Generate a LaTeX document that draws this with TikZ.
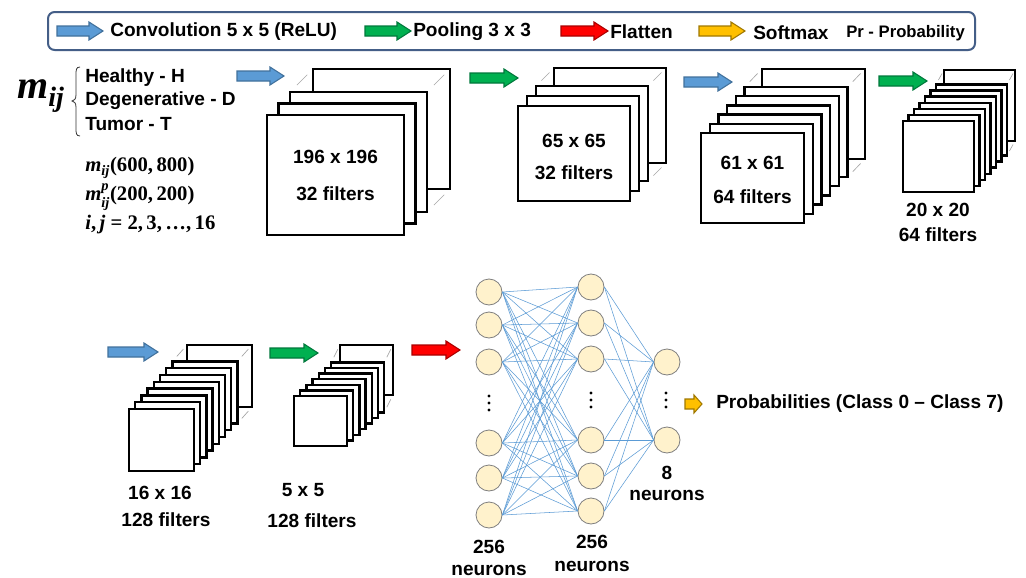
\documentclass[tikz,border=0pt]{standalone}
\usepackage[no-math]{fontspec}
\setmainfont{Liberation Sans}
\newfontfamily\serifbf{Liberation Serif}
\usepackage{amsmath,amssymb}
\usetikzlibrary{calc}
\definecolor{convblue}{RGB}{91,155,213}
\definecolor{convbluedark}{RGB}{65,113,156}
\definecolor{poolgreen}{RGB}{0,176,80}
\definecolor{poolgreendark}{RGB}{0,120,60}
\definecolor{flatred}{RGB}{255,0,0}
\definecolor{flatreddark}{RGB}{170,0,0}
\definecolor{softyellow}{RGB}{255,192,0}
\definecolor{softyellowdark}{RGB}{160,120,0}
\definecolor{legendframe}{RGB}{68,94,135}
\definecolor{neuronfill}{RGB}{255,242,204}
\definecolor{neuronline}{RGB}{127,127,127}
\definecolor{edgeblue}{RGB}{91,155,213}
\tikzset{
  pics/barrow/.style n args={4}{code={%
    \path[pic actions] (0,-#3) -- ({#1-#4},-#3) -- ({#1-#4},-#2) -- (#1,0)
      -- ({#1-#4},#2) -- ({#1-#4},#3) -- (0,#3) -- cycle;}},
  convarrow/.style={fill=convblue,draw=convbluedark,line width=0.8pt},
  poolarrow/.style={fill=poolgreen,draw=poolgreendark,line width=0.8pt},
  flatarrow/.style={fill=flatred,draw=flatreddark,line width=0.8pt},
  softarrow/.style={fill=softyellow,draw=softyellowdark,line width=0.8pt},
  fmbox/.style={draw=black,fill=white,line width=1.7pt},
  fmdash/.style={draw=gray!70,line width=0.5pt},
  lbl/.style={font=\fontsize{14.3}{16}\selectfont\bfseries,inner sep=0pt},
  lblsmall/.style={font=\fontsize{12.5}{14}\selectfont\bfseries,inner sep=0pt},
  bigmath/.style={font=\fontsize{30}{32}\selectfont\serifbf\bfseries,inner sep=0pt},
  midmath/.style={font=\fontsize{15.5}{17}\selectfont\serifbf\bfseries,inner sep=0pt},
  neuron/.style={circle,draw=neuronline,fill=neuronfill,line width=0.6pt,minimum size=19.5pt,inner sep=0pt},
  nnedge/.style={draw=edgeblue,line width=0.4pt},
  nndot/.style={circle,fill=black,inner sep=0pt,minimum size=2.4pt},
}
\newcommand\fmstack[9]{%
  \pgfmathtruncatemacro\fmL{#5-1}%
  \pgfmathsetmacro\fmex{#8-\fmL*(#6)}%
  \pgfmathsetmacro\fmey{#9-\fmL*(#7)}%
  \draw[fmbox] ({#1+#8},{#2+#9}) rectangle ++(#3,#4);
  \draw[fmdash] ({#1+\fmL*(#6)+0.3*\fmex},{#2+\fmL*(#7)+0.3*\fmey}) -- ++({0.45*\fmex},{0.45*\fmey});
  \draw[fmdash] ({#1+#3+\fmL*(#6)+0.3*\fmex},{#2+\fmL*(#7)+0.3*\fmey}) -- ++({0.45*\fmex},{0.45*\fmey});
  \draw[fmdash] ({#1+#3+\fmL*(#6)+0.3*\fmex},{#2+#4+\fmL*(#7)+0.3*\fmey}) -- ++({0.45*\fmex},{0.45*\fmey});
  \foreach \k in {\fmL,...,0}{\draw[fmbox] ({#1+\k*(#6)},{#2+\k*(#7)}) rectangle ++(#3,#4);}
}
\newcommand\tmij{\textit{m}$_{\textit{ij}}$}
\begin{document}
\begin{tikzpicture}[x=0.75pt,y=-0.75pt]
\useasboundingbox (0,0) rectangle (1026,578);
\fill[white] (0,0) rectangle (1026,578);

% legend
\draw[legendframe,line width=1.5pt,rounded corners=5pt] (48,12) rectangle (975,50);
\pic[convarrow] (lgconv) at (57,31) {barrow={46}{9}{5}{14}};
\node[lbl,anchor=west] (lgconvt) at (110,32) {Convolution 5 x 5 (ReLU)};
\pic[poolarrow] (lgpool) at (365,31) {barrow={46}{9}{5}{14}};
\node[lbl,anchor=west] (lgpoolt) at (413,32) {Pooling 3 x 3};
\pic[flatarrow] (lgflat) at (561,31) {barrow={47}{9}{5}{14}};
\node[lbl,anchor=west] (lgflatt) at (610,32) {Flatten};
\pic[softarrow] (lgsoft) at (699,31) {barrow={46}{9}{5}{14}};
\node[lbl,anchor=west] (lgsoftt) at (753,33) {Softmax};
\node[lblsmall,anchor=west] (lgpr) at (846,33) {Pr - Probability};

% input description
\node[bigmath] (mij) at (41,96) {\tmij};
\draw[line width=0.6pt,black!80] (80,67) .. controls (76,67) and (76,70) .. (76,75) -- (76,95)
  .. controls (76,99) and (74,101) .. (72,101) .. controls (74,101) and (76,103) .. (76,107)
  -- (76,128) .. controls (76,133) and (76,136) .. (80,136);
\node[lbl,anchor=west] (healthy) at (85,78) {Healthy - H};
\node[lbl,anchor=west] (degen) at (85,101) {Degenerative - D};
\node[lbl,anchor=west] (tumor) at (85,124) {Tumor - T};
\node[midmath,anchor=west] (f1) at (85,168) {\tmij(600,\,800)};
\node[midmath,anchor=west] (f2) at (85,197) {\textit{m}$^{\textit{p}}_{\textit{ij}}$(200,\,200)};
\node[midmath,anchor=west] (f3) at (85,225) {\textit{i},\,\textit{j} = 2,\,3,\,…,\,16};

% row 1
\pic[convarrow] (a1) at (237,76) {barrow={47}{9}{5}{14}};
\fmstack{267}{115}{137}{120}{3}{11.5}{-11.5}{46}{-46}
\node[lbl] (s1a) at (335.5,157) {196 x 196};
\node[lbl] (s1b) at (335.5,194) {32 filters};

\pic[poolarrow] (a2) at (470,78) {barrow={48}{9}{5}{14}};
\fmstack{518}{106}{112}{95}{3}{9}{-10}{36}{-38}
\node[lbl] (s2a) at (574,141) {65 x 65};
\node[lbl] (s2b) at (574,173) {32 filters};

\pic[convarrow] (a3) at (684,82) {barrow={48}{9}{5}{14}};
\fmstack{701}{133}{103}{90}{6}{8.7}{-9.2}{61}{-64}
\node[lbl] (s3a) at (752.5,163) {61 x 61};
\node[lbl] (s3b) at (752.5,197) {64 filters};

\pic[poolarrow] (a4) at (879,81) {barrow={48}{9}{5}{14}};
\fmstack{903}{121}{71}{71}{7}{5.5}{-6.1}{41}{-51}
\node[lbl] (s4a) at (938,210) {20 x 20};
\node[lbl] (s4b) at (938,235) {64 filters};

% row 2
\pic[convarrow] (a5) at (108,352) {barrow={50}{9}{5}{14}};
\fmstack{129}{409}{65}{62}{8}{6.2}{-6.8}{58}{-64}
\node[lbl] (s5a) at (160,493) {16 x 16};
\node[lbl] (s5b) at (166,520) {128 filters};

\pic[poolarrow] (a6) at (270,353) {barrow={48}{9}{5}{14}};
\fmstack{294}{396}{53}{50}{7}{6.2}{-5.6}{46}{-51}
\node[lbl] (s6a) at (303,490) {5 x 5};
\node[lbl] (s6b) at (312,521) {128 filters};

\pic[flatarrow] (a7) at (412,350) {barrow={48}{9}{5}{14}};

% neural network
\foreach \n/\y in {1/292,2/325,3/362,4/443,5/478,6/515}{\node[neuron] (p\n) at (489,\y) {};}
\foreach \n/\y in {1/287,2/323,3/359,4/440,5/476,6/511}{\node[neuron] (q\n) at (591,\y) {};}
\node[neuron] (r1) at (667,362) {};
\node[neuron] (r2) at (667,440) {};
\foreach \i in {1,...,6}{\foreach \j in {1,...,6}{\draw[nnedge] (p\i.east) -- (q\j.west);}}
\foreach \i in {1,...,6}{\foreach \j in {1,2}{\draw[nnedge] (q\i.east) -- (r\j.west);}}
\foreach \y [count=\c] in {396,403,410}{\node[nndot] (pd\c) at (489,\y) {};}
\foreach \y [count=\c] in {393,400,407}{\node[nndot] (qd\c) at (591,\y) {};}
\foreach \y [count=\c] in {393,400,407}{\node[nndot] (rd\c) at (666,\y) {};}

\node[lbl] (n1a) at (489,547) {256};
\node[lbl] (n1b) at (489,570) {neurons};
\node[lbl] (n2a) at (592,542) {256};
\node[lbl] (n2b) at (592,566) {neurons};
\node[lbl] (n3a) at (667,473) {8};
\node[lbl] (n3b) at (667,495) {neurons};

\pic[softarrow] (a8) at (685,404) {barrow={17}{9}{5}{8}};
\node[lbl,anchor=west] (prob) at (716,404) {Probabilities (Class 0 -- Class 7)};
\end{tikzpicture}
\end{document}
